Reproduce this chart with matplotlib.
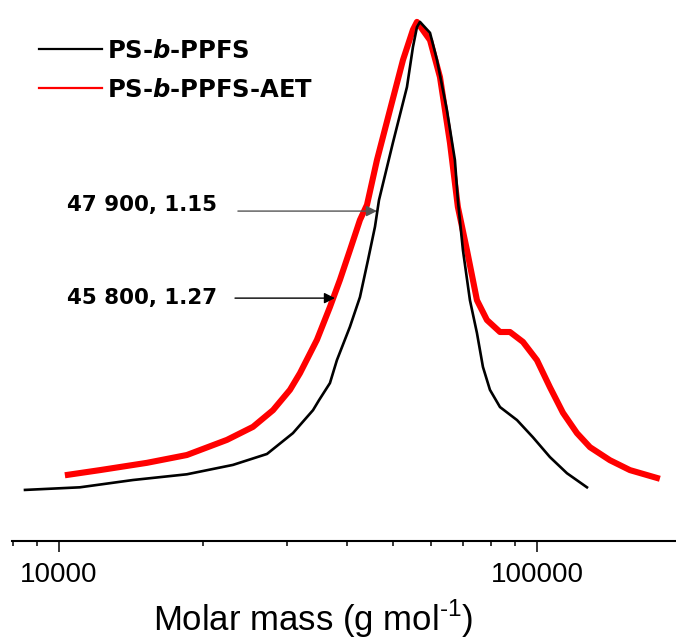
import matplotlib
matplotlib.use("Agg")
import matplotlib.pyplot as plt
from matplotlib.lines import Line2D
from matplotlib.ticker import FixedLocator, NullFormatter, FixedFormatter

plt.rcParams['font.family'] = ['Liberation Sans', 'DejaVu Sans']
plt.rcParams['axes.unicode_minus'] = False
plt.rcParams['mathtext.fontset'] = 'custom'
plt.rcParams['mathtext.rm'] = 'Liberation Sans'
plt.rcParams['mathtext.it'] = 'DejaVu Sans:italic:bold'
plt.rcParams['mathtext.bf'] = 'DejaVu Sans:bold'

# --- data (molar mass in g/mol, normalised signal) ---
black_M = [8490, 11060, 14280, 18520, 23120, 27240, 30870, 34000, 34990, 36890,
           38150, 40620, 42630, 44310, 45830, 46720, 49960, 53460, 55030, 56100,
           56920, 59740, 61780, 64800, 67350, 68320, 70010, 72410, 74900, 77090,
           79740, 83690, 90840, 98090, 106460, 115560, 127240]
black_s = [0.102, 0.107, 0.121, 0.132, 0.150, 0.171, 0.211, 0.255, 0.274, 0.307,
           0.351, 0.415, 0.472, 0.543, 0.607, 0.658, 0.768, 0.875, 0.952, 0.990,
           1.000, 0.979, 0.927, 0.831, 0.735, 0.658, 0.562, 0.466, 0.403, 0.338,
           0.294, 0.261, 0.236, 0.203, 0.165, 0.134, 0.107]

red_M = [10440, 12180, 15280, 18520, 22460, 25460, 28040, 30430, 31930, 34650,
         36890, 38710, 40620, 42630, 44100, 46270, 49260, 52450, 55030, 56100,
         59740, 62680, 65770, 68320, 71380, 74900, 78590, 83690, 87810, 93480,
         100000, 106460, 113350, 121250, 129110, 142140, 156530, 178240]
red_s = [0.131, 0.140, 0.154, 0.169, 0.198, 0.223, 0.255, 0.294, 0.326, 0.390,
         0.453, 0.505, 0.562, 0.620, 0.649, 0.735, 0.831, 0.927, 0.985, 1.000,
         0.965, 0.894, 0.768, 0.645, 0.562, 0.466, 0.428, 0.405, 0.405, 0.386,
         0.351, 0.299, 0.250, 0.211, 0.184, 0.159, 0.140, 0.125]

labels = ['PS-$\\it{b}$-PPFS', 'PS-$\\it{b}$-PPFS-AET']
ann_text = ['47 900, 1.15', '45 800, 1.27']
ann_tip = [(46270, 0.637), (37790, 0.470)]
ann_tail = [(23680, 0.637), (23350, 0.470)]
ann_label_pos = [(10390, 0.649), (10390, 0.470)]

major_ticks = [10000, 100000]
major_labels = ['10000', '100000']
minor_ticks = [8000, 9000, 20000, 30000, 40000, 50000, 60000, 70000, 80000, 90000]

fig = plt.figure(figsize=(6.76, 6.39), dpi=100)
ax = fig.add_axes([12/676, (639-541)/639, 1-12/676, 541/639])

ax.plot(red_M, red_s, color='#ff0000', lw=4.4, solid_joinstyle='round', zorder=2)
ax.plot(black_M, black_s, color='black', lw=1.9, zorder=3)

ax.set_xscale('log')
ax.set_xlim(7975, 195400)
ax.set_ylim(0.004, 1.042)

for s in ['top', 'right', 'left']:
    ax.spines[s].set_visible(False)
ax.spines['bottom'].set_linewidth(1.5)
ax.set_yticks([])

ax.xaxis.set_major_locator(FixedLocator(major_ticks))
ax.xaxis.set_major_formatter(FixedFormatter(major_labels))
ax.xaxis.set_minor_locator(FixedLocator(minor_ticks))
ax.xaxis.set_minor_formatter(NullFormatter())
ax.tick_params(axis='x', which='major', length=8, width=1.1, labelsize=20, pad=7, direction='out')
ax.tick_params(axis='x', which='minor', length=3.6, width=1.1, direction='out')

ax.set_xlabel('Molar mass (g mol$^{\\text{-1}}$)', fontsize=25)
ax.xaxis.set_label_coords(0.453, -0.105)

bold_font = {'family': 'DejaVu Sans', 'weight': 'bold', 'size': 17.5}
handles = [Line2D([], [], color='black', lw=1.6), Line2D([], [], color='#ff0000', lw=1.6)]
leg = ax.legend(handles, labels, loc='upper left', bbox_to_anchor=(0.0407, 0.928),
                frameon=False, prop=bold_font,
                handlelength=2.6, handletextpad=0.2, labelspacing=0.6,
                borderaxespad=0, borderpad=0)

colors = ['#555555', 'black']
for t, tip, tail, pos, c in zip(ann_text, ann_tip, ann_tail, ann_label_pos, colors):
    ax.text(pos[0], pos[1], t, fontsize=15.4, fontweight='bold', family='DejaVu Sans',
            ha='left', va='center')
    ax.annotate('', xy=tip, xytext=tail,
                arrowprops=dict(arrowstyle='-|>', color=c, lw=1.0, mutation_scale=16,
                                shrinkA=0, shrinkB=0))

fig.savefig('out.png', dpi=100)
